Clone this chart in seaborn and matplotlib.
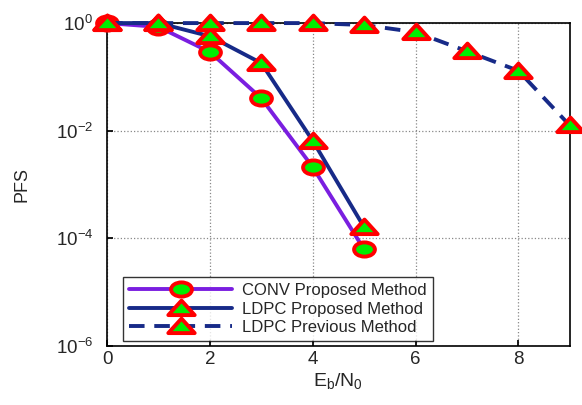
import matplotlib
matplotlib.use("Agg")
import matplotlib.pyplot as plt
import seaborn as sns
import pandas as pd
import numpy as np
from matplotlib.ticker import FixedLocator, NullLocator
from matplotlib.path import Path
from matplotlib.transforms import Affine2D

sns.set_theme(style="white")
plt.rcParams['font.family'] = ['Liberation Sans', 'DejaVu Sans']
plt.rcParams['mathtext.fontset'] = 'custom'
plt.rcParams['mathtext.rm'] = 'Liberation Sans'
plt.rcParams['mathtext.it'] = 'Liberation Sans'

x_conv = [0, 1, 2, 3, 4, 5]
conv_proposed = [1.0, 0.85, 0.29, 0.04, 0.0021, 6.2e-5]
x_ldpc = [0, 1, 2, 3, 4, 5]
ldpc_proposed = [1.0, 1.0, 0.57, 0.18, 0.0065, 1.6e-4]
x_prev = [0, 1, 2, 3, 4, 5, 6, 7, 8, 9]
ldpc_previous = [1.0, 1.0, 1.0, 1.0, 1.0, 0.92, 0.68, 0.3, 0.13, 0.0125]

labels = ["CONV Proposed Method", "LDPC Proposed Method", "LDPC Previous Method"]

df = pd.concat([
    pd.DataFrame({"x": x_conv, "y": conv_proposed, "s": labels[0]}),
    pd.DataFrame({"x": x_ldpc, "y": ldpc_proposed, "s": labels[1]}),
    pd.DataFrame({"x": x_prev, "y": ldpc_previous, "s": labels[2]}),
])

# wide (stretched) marker shapes
ellipse = Path.unit_circle().transformed(Affine2D().scale(1.0, 0.68))
tri = Path([(-1.0, -0.5), (1.0, -0.5), (0.0, 0.6), (-1.0, -0.5)],
           [Path.MOVETO, Path.LINETO, Path.LINETO, Path.CLOSEPOLY])

fig = plt.figure(figsize=(5.82, 4.05), dpi=100)
ax = fig.add_axes([0.184, 0.146, 0.795, 0.797])

colors = {labels[0]: "#7a1ee0", labels[1]: "#172a88", labels[2]: "#172a88"}
markers = {labels[0]: ellipse, labels[1]: tri, labels[2]: tri}
dashes = {labels[0]: "", labels[1]: "", labels[2]: (4, 2.5)}
msize = {labels[0]: 15, labels[1]: 19, labels[2]: 19}

sns.lineplot(data=df, x="x", y="y", hue="s", style="s", palette=colors,
             markers=markers, dashes=dashes, ax=ax, linewidth=2.8,
             markersize=18, markerfacecolor="#00ee00", markeredgecolor="#ff0000",
             markeredgewidth=2.8, sort=False, legend=True, clip_on=False)
for ln, lab in zip(ax.get_lines()[:3], labels):
    ln.set_markersize(msize[lab])
    ln.set_zorder(3 + labels.index(lab))

ax.set_yscale("log")
ax.set_xlim(0, 9)
ax.set_ylim(1e-6, 1)
ax.xaxis.set_major_locator(FixedLocator([0, 2, 4, 6, 8]))
ax.yaxis.set_major_locator(FixedLocator([1e-6, 1e-4, 1e-2, 1]))
ax.yaxis.set_minor_locator(NullLocator())
ax.set_yticklabels([r"$10^{-6}$", r"$10^{-4}$", r"$10^{-2}$", r"$10^{0}$"])
ax.grid(True, which="major", color="#888888", linestyle=":", linewidth=0.9)
ax.tick_params(labelsize=13.5, direction="in", length=4, color="black", left=True, bottom=True)
ax.tick_params(axis="y", pad=10)
for sp in ax.spines.values():
    sp.set_color("black")
    sp.set_linewidth(1.2)
ax.set_xlabel(r"E$_\mathrm{b}$/N$_\mathrm{0}$", fontsize=14, labelpad=2)
ax.set_ylabel("PFS", fontsize=13, labelpad=18)

handles, lbls = ax.get_legend_handles_labels()
leg = ax.legend(handles, lbls, loc="lower left", bbox_to_anchor=(0.035, 0.015),
                borderaxespad=0, fontsize=12, frameon=True, fancybox=False,
                edgecolor="black", handlelength=6.2, borderpad=0.35,
                labelspacing=0.22, handletextpad=0.6)
leg.get_frame().set_linewidth(1.0)
leg.set_zorder(10)
for h, lab in zip(leg.legend_handles, labels):
    h.set_markerfacecolor("#00ee00")
    h.set_markeredgecolor("#ff0000")
    h.set_markeredgewidth(2.8)
    h.set_markersize(msize[lab])
    h.set_linewidth(2.8)

fig.savefig("out.png", dpi=100)
